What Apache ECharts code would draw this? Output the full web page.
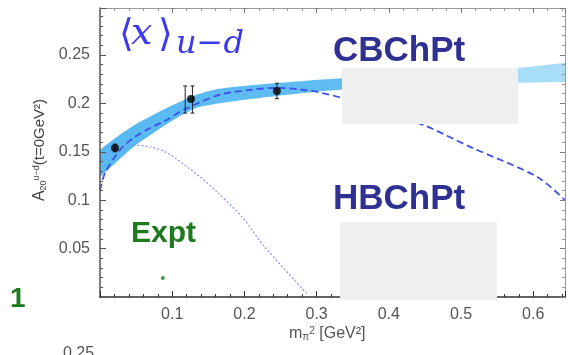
<!DOCTYPE html>
<html><head><meta charset="utf-8">
<script src="https://cdn.jsdelivr.net/npm/echarts@6/dist/echarts.min.js"></script>
<style>html,body{margin:0;padding:0;background:#fff}#c{width:568px;height:355px}</style>
</head><body><div id="c"></div>
<script>
// ---- data ----
const xTickLabels = ['0.1','0.2','0.3','0.4','0.5','0.6'];
const yTickLabels = ['0.05','0.1','0.15','0.2','0.25'];

// CBChPt error band
const bandX     = [0.000, 0.0208, 0.0554, 0.126, 0.166, 0.245, 0.335, 0.575, 0.644];
const bandUpper = [0.152, 0.164,  0.181,  0.2066,0.215, 0.221, 0.226, 0.2365,0.242];
const bandLower = [0.124, 0.138,  0.160,  0.193, 0.200, 0.2076,0.214, 0.221, 0.222];

// dashed curve
const dashX = [0.000, 0.0069, 0.0277, 0.0457, 0.0693, 0.0928, 0.115, 0.166, 0.208, 0.245, 0.291, 0.335, 0.4475, 0.5127, 0.6055, 0.644];
const dashY = [0.110, 0.128,  0.152,  0.164,  0.1746, 0.183,  0.193, 0.209, 0.214, 0.216, 0.213, 0.2056,0.1777, 0.155,  0.124,  0.100];

// dotted curve
const dotX = [0.0042, 0.0166, 0.0305, 0.0457, 0.0693, 0.0928, 0.1386, 0.162, 0.198, 0.2259, 0.2882];
const dotY = [0.1415, 0.152,  0.156,  0.157,  0.155,  0.149,  0.124,  0.1085,0.0816,0.0537, 0.002];

// lattice points
const latX = [0.0208, 0.126, 0.245];
const latY = [0.154, 0.2045, 0.2128];
// error bars
const barX   = [0.0208, 0.118, 0.128, 0.245];
const barY   = [0.154, 0.204, 0.204, 0.2128];
const barErr = [0.004, 0.014, 0.014, 0.008];

// experimental point
const exptX = [0.087];
const exptY = [0.0196];

// ---- chart ----
const chart = echarts.init(document.getElementById('c'), null, {renderer:'canvas'});
const zip = (a,b)=>a.map((v,i)=>[v,b[i]]);
const fmt = (labels)=> (v)=>{ const s = labels.find(l=>Math.abs(parseFloat(l)-v)<1e-9); return s||''; };

const baseX = {type:'value', min:0, max:0.644, interval:0.1, splitLine:{show:false}, z:10};
const baseY = {type:'value', min:0, max:0.2985, interval:0.05, splitLine:{show:false}, z:10};

const bandFill = new echarts.graphic.LinearGradient(0,0,1,0,[
  {offset:0,color:'#58b9f2'},{offset:0.89,color:'#68c1f3'},
  {offset:0.9,color:'#a8ddf7'},{offset:1,color:'#a8ddf7'}]);

chart.setOption({
  animation:false,
  backgroundColor:'#fff',
  grid:{left:100, right:3, top:8, bottom:58},
  xAxis:[
    Object.assign({}, baseX, {position:'bottom',
      axisLine:{show:true, onZero:false, lineStyle:{color:'#333', width:1.5}},
      axisTick:{show:true, inside:true, length:6, lineStyle:{color:'#333'}},
      minorTick:{show:true, splitNumber:5, length:3, lineStyle:{color:'#333'}},
      axisLabel:{show:true, margin:10, fontSize:16, color:'#555', fontFamily:'Liberation Sans', formatter:fmt(xTickLabels)}}),
    Object.assign({}, baseX, {position:'top',
      axisLine:{show:true, onZero:false, lineStyle:{color:'#999', width:1}},
      axisTick:{show:true, inside:true, length:5, lineStyle:{color:'#777'}},
      minorTick:{show:true, splitNumber:5, length:3, lineStyle:{color:'#999'}},
      axisLabel:{show:false}})
  ],
  yAxis:[
    Object.assign({}, baseY, {position:'left',
      axisLine:{show:true, onZero:false, lineStyle:{color:'#555', width:1.5}},
      axisTick:{show:true, inside:true, length:6, lineStyle:{color:'#555'}},
      minorTick:{show:true, splitNumber:5, length:3, lineStyle:{color:'#555'}},
      axisLabel:{show:true, margin:10, fontSize:16, color:'#555', fontFamily:'Liberation Sans', formatter:fmt(yTickLabels)}}),
    Object.assign({}, baseY, {position:'right',
      axisLine:{show:true, onZero:false, lineStyle:{color:'#999', width:1}},
      axisTick:{show:true, inside:true, length:5, lineStyle:{color:'#777'}},
      minorTick:{show:true, splitNumber:5, length:3, lineStyle:{color:'#999'}},
      axisLabel:{show:false}})
  ],
  series:[
    // band: upper edge filled down, then masked below lower edge
    {type:'line', name:'bandUpper', data:zip(bandX,bandUpper), showSymbol:false, smooth:0.3, z:1,
     lineStyle:{width:0, opacity:0}, areaStyle:{color:bandFill, opacity:1}, silent:true},
    {type:'line', name:'bandLower', data:zip(bandX,bandLower), showSymbol:false, smooth:0.3, z:1.5,
     lineStyle:{width:0, opacity:0}, areaStyle:{color:'#ffffff', opacity:1}, silent:true},
    {type:'line', name:'HBChPt', data:zip(dotX,dotY), showSymbol:false, smooth:0.3, z:2,
     lineStyle:{color:'#8a93f3', width:1.2, type:[2,2]}},
    {type:'line', name:'CBChPt', data:zip(dashX,dashY), showSymbol:false, smooth:0.3, z:3,
     lineStyle:{color:'#3f50ee', width:1.8, type:[7,4]}},
    {type:'custom', name:'err', data:barX.map((x,i)=>[x, barY[i], barErr[i]]), z:4, silent:true,
     renderItem:(params, api)=>{
       const x=api.value(0), y=api.value(1), e=api.value(2);
       const t=api.coord([x,y+e]), b=api.coord([x,y-e]);
       const st={stroke:'#222', lineWidth:1};
       return {type:'group', children:[
         {type:'line', shape:{x1:t[0],y1:t[1],x2:b[0],y2:b[1]}, style:st},
         {type:'line', shape:{x1:t[0]-2,y1:t[1],x2:t[0]+2,y2:t[1]}, style:st},
         {type:'line', shape:{x1:b[0]-2,y1:b[1],x2:b[0]+2,y2:b[1]}, style:st}]};
     }},
    {type:'scatter', name:'lattice', data:zip(latX,latY), symbol:'circle', symbolSize:8, z:5,
     itemStyle:{color:'#000'}},
    {type:'scatter', name:'Expt', data:zip(exptX,exptY), symbol:'circle', symbolSize:4, z:5,
     itemStyle:{color:'#1e7a1e'}}
  ],
  graphic:[
    {type:'rect', z:100, shape:{x:342,y:68,width:176,height:56}, style:{fill:'#efefef'}},
    {type:'rect', z:100, shape:{x:340,y:222,width:157,height:78}, style:{fill:'#efefef'}},
    {type:'text', z:101, left:119, top:17, style:{text:'⟨', font:'38px "DejaVu Serif"', fill:'#3a3af0'}},
    {type:'text', z:101, left:131, top:15, style:{text:'x', font:'italic 38px "DejaVu Serif"', fill:'#3a3af0'}},
    {type:'text', z:101, left:158, top:17, style:{text:'⟩', font:'38px "DejaVu Serif"', fill:'#3a3af0'}},
    {type:'text', z:101, left:176, top:29, style:{text:'u−d', font:'italic 32px "DejaVu Serif"', fill:'#3a3af0'}},
    {type:'text', z:101, left:333, top:34, style:{text:'CBChPt', font:'bold 35px "Liberation Sans"', fill:'#2e3192'}},
    {type:'text', z:101, left:333, top:182, style:{text:'HBChPt', font:'bold 35px "Liberation Sans"', fill:'#2e3192'}},
    {type:'text', z:101, left:131, top:219, style:{text:'Expt', font:'bold 30px "Liberation Sans"', fill:'#1e7a1e'}},
    {type:'text', z:101, left:10, top:285, style:{text:'1', font:'bold 28px "Liberation Sans"', fill:'#1e7a1e'}},
    {type:'text', z:101, left:63, top:346, style:{text:'0.25', font:'16px "Liberation Sans"', fill:'#555'}},
    {type:'text', z:101, x:40, y:150, rotation:Math.PI/2,
     style:{text:'{a|A}{s|20}{p|u−d}{b|(t=0GeV²)}', textAlign:'center', textVerticalAlign:'middle',
       rich:{a:{fontSize:16,fontFamily:'Liberation Sans',fill:'#444'},
             s:{fontSize:9,fontFamily:'Liberation Sans',fill:'#444',verticalAlign:'bottom'},
             p:{fontSize:9,fontFamily:'Liberation Sans',fill:'#444',verticalAlign:'top'},
             b:{fontSize:15,fontFamily:'Liberation Sans',fill:'#444'}}}},
    {type:'text', z:101, left:289, top:326,
     style:{text:'{a|m}{s|π}{p|2}{b| [GeV²]}',
       rich:{a:{fontSize:16,fontFamily:'Liberation Sans',fill:'#555'},
             s:{fontSize:10,fontFamily:'Liberation Sans',fill:'#555',verticalAlign:'bottom'},
             p:{fontSize:10,fontFamily:'Liberation Sans',fill:'#555',verticalAlign:'top'},
             b:{fontSize:16,fontFamily:'Liberation Sans',fill:'#555'}}}}
  ]
});
</script></body></html>
